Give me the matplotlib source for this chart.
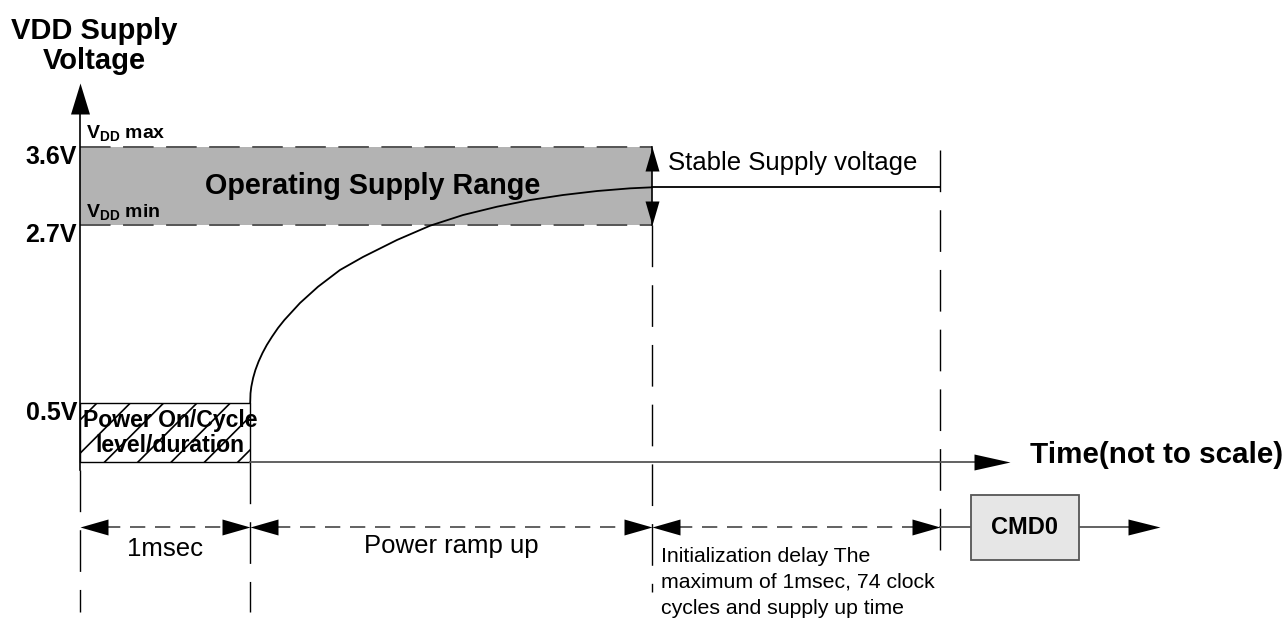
import numpy as np
import matplotlib
matplotlib.use("Agg")
import matplotlib.pyplot as plt
from matplotlib.patches import Rectangle

plt.rcParams['font.family'] = ['Liberation Sans', 'DejaVu Sans']
plt.rcParams['mathtext.fontset'] = 'custom'
plt.rcParams['mathtext.rm'] = 'Liberation Sans'
plt.rcParams['mathtext.bf'] = 'Liberation Sans:bold'
plt.rcParams['hatch.linewidth'] = 1.2
plt.rcParams['lines.scale_dashes'] = False

# supply levels (V)
v_levels = [0.5, 2.7, 3.6]
v_level_labels = ['0.5V', '2.7V', '3.6V']
v_stable = 3.135

# time markers (not to scale) and phase labels
t_marks = [80, 250, 652, 940]
phase_labels = ['1msec', 'Power ramp up',
                'Initialization delay The\nmaximum of 1msec, 74 clock\ncycles and supply up time']

# power ramp
ramp_t = [250.2, 250.5, 251.3, 253.1, 255.4, 258.6, 262.5, 266.8, 272, 278, 284.4,
          300, 318, 340, 363, 397, 430, 463, 497, 530, 563, 597, 630, 652]
ramp_v = [0.5, 0.62, 0.701, 0.809, 0.908, 1.013, 1.118, 1.217, 1.319, 1.427,
          1.526, 1.736, 1.937, 2.144, 2.305, 2.515, 2.691, 2.815, 2.911, 2.988,
          3.046, 3.092, 3.123, 3.135]

# voltage axis is not to scale: piecewise linear between the marked levels
knot_v = np.array([-4.0, 0.0, 0.5, 2.7, 3.6, 7.0])
knot_px = np.array([462 + 4 * 118, 462, 403, 225, 147, 147 - 3.4 * 86.67])


def fwd(v):
    return -np.interp(v, knot_v, knot_px)


def inv(y):
    return np.interp(-np.asarray(y), knot_px[::-1], knot_v[::-1])


def row(px):
    """layout row given in pixels from the top, as a voltage coordinate"""
    return float(inv(-px))


fig = plt.figure(figsize=(12.85, 6.23), dpi=100)
ax = fig.add_axes([0, 0, 1, 1])
ax.set_yscale('function', functions=(fwd, inv))
ax.set_xlim(0, 1285)
ax.set_ylim(row(623), row(0))
ax.axis('off')


def head(x, y, direction, length=28, width=16, color='black'):
    pts = np.array([(0, 0), (-length, width / 2), (-length, -width / 2), (0, 0)], float)
    ang = np.deg2rad({'right': 0, 'up': 90, 'left': 180, 'down': 270}[direction])
    rot = np.array([[np.cos(ang), -np.sin(ang)], [np.sin(ang), np.cos(ang)]])
    pts = pts @ rot.T
    ms = 2 * length / 1.389
    ax.plot([x], [y], marker=pts, markersize=ms, color=color, markeredgewidth=0,
            zorder=6)


DASH_V = (0, (30, 13))
DASH_H = (0, (11, 7))
t0, t1, t2, t3 = t_marks
v05, v27, v36 = v_levels

# operating band
ax.add_patch(Rectangle((t0, v27), t2 - t0, v36 - v27, facecolor='#b3b3b3',
                       edgecolor='none', zorder=1))
for v in (v27, v36):
    ax.plot([t0, t2], [v, v], color='#555555', lw=1.4, ls=(0, (22, 9)), zorder=2)
ax.text((t0 + t2) / 2 + 7, row(186), 'Operating Supply Range', fontsize=20.7,
        fontweight='bold', ha='center', va='center', zorder=3)

# power on/cycle box
ax.add_patch(Rectangle((t0, 0), t1 - t0, v05, facecolor='white', edgecolor='black',
                       hatch='/', lw=1.0, zorder=2))
ax.text(t0 + 90, row(420), 'Power On/Cycle', fontsize=16.6, fontweight='bold',
        ha='center', va='center', zorder=4)
ax.text(t0 + 90, row(446), 'level/duration', fontsize=16.6, fontweight='bold',
        ha='center', va='center', zorder=4)

# voltage axis
ax.plot([t0, t0], [row(470), row(112)], color='black', lw=1.2, zorder=3)
head(t0, row(83), 'up', length=31, width=19)
ax.plot([t0, t0], [row(470), row(612)], color='black', lw=1.0, ls=DASH_V)
ax.text(94, row(31), 'VDD Supply', fontsize=21, fontweight='bold', ha='center',
        va='center')
ax.text(94, row(61), 'Voltage', fontsize=21, fontweight='bold', ha='center',
        va='center')

for v, lab in zip(v_levels, v_level_labels):
    ax.text(t0 - 3, row(knot_px[list(knot_v).index(v)] + 10), lab, fontsize=18,
            fontweight='bold', ha='right', va='center')
ax.text(t0 + 6, row(133), r'$\mathbf{V_{DD}}$ max', fontsize=14, fontweight='bold',
        ha='left', va='center')
ax.text(t0 + 6, row(212), r'$\mathbf{V_{DD}}$ min', fontsize=14, fontweight='bold',
        ha='left', va='center')

# ramp and stable supply
ax.plot(ramp_t, ramp_v, color='black', lw=1.3, zorder=4)
ax.plot([t2, t3], [v_stable, v_stable], color='black', lw=1.3, zorder=4)
ax.plot([t2, t2], [v27, v36], color='black', lw=1.2, zorder=4)
head(t2, v36, 'up', length=24, width=14)
head(t2, v27, 'down', length=24, width=14)
ax.text(668, row(163), 'Stable Supply voltage', fontsize=18.5, ha='left',
        va='center')

# time axis
ax.plot([t1, 975], [0, 0], color='#555555', lw=1.3, zorder=3)
head(1010, 0, 'right', length=36, width=16)
ax.text(1030, row(455), 'Time(not to scale)', fontsize=21.3, fontweight='bold',
        ha='left', va='center')

# vertical markers
ax.plot([t1, t1], [0, row(612)], color='black', lw=1.0, ls=DASH_V)
ax.plot([t2, t2], [v27, row(592)], color='black', lw=1.0, ls=DASH_V)
ax.plot([t3, t3], [row(150), row(562)], color='black', lw=1.0, ls=DASH_V)

# phase dimension arrows
dim = row(527)
for a, b in zip(t_marks[:-1], t_marks[1:]):
    ax.plot([a + 25, b - 25], [dim, dim], color='#555555', lw=1.3, ls=DASH_H)
    head(a, dim, 'left', length=28, width=16)
    head(b, dim, 'right', length=28, width=16)
ax.text((t0 + t1) / 2, row(549), phase_labels[0], fontsize=18.5, ha='center',
        va='center')
ax.text((t1 + t2) / 2, row(546), phase_labels[1], fontsize=18.5, ha='center',
        va='center')
ax.text(661, row(547), phase_labels[2], fontsize=15.3, ha='left', va='top',
        linespacing=1.45)

# CMD0
ax.plot([t3, 971], [dim, dim], color='#555555', lw=1.3)
ax.add_patch(Rectangle((971, row(560)), 108, row(495) - row(560),
                       facecolor='#e6e6e6', edgecolor='#555555', lw=1.3, zorder=3))
ax.text(1025, dim, 'CMD0', fontsize=17, fontweight='bold', ha='center',
        va='center', zorder=4)
ax.plot([1079, 1130], [dim, dim], color='#555555', lw=1.3)
head(1160, dim, 'right', length=32, width=16)

fig.savefig('out.png', dpi=100)
